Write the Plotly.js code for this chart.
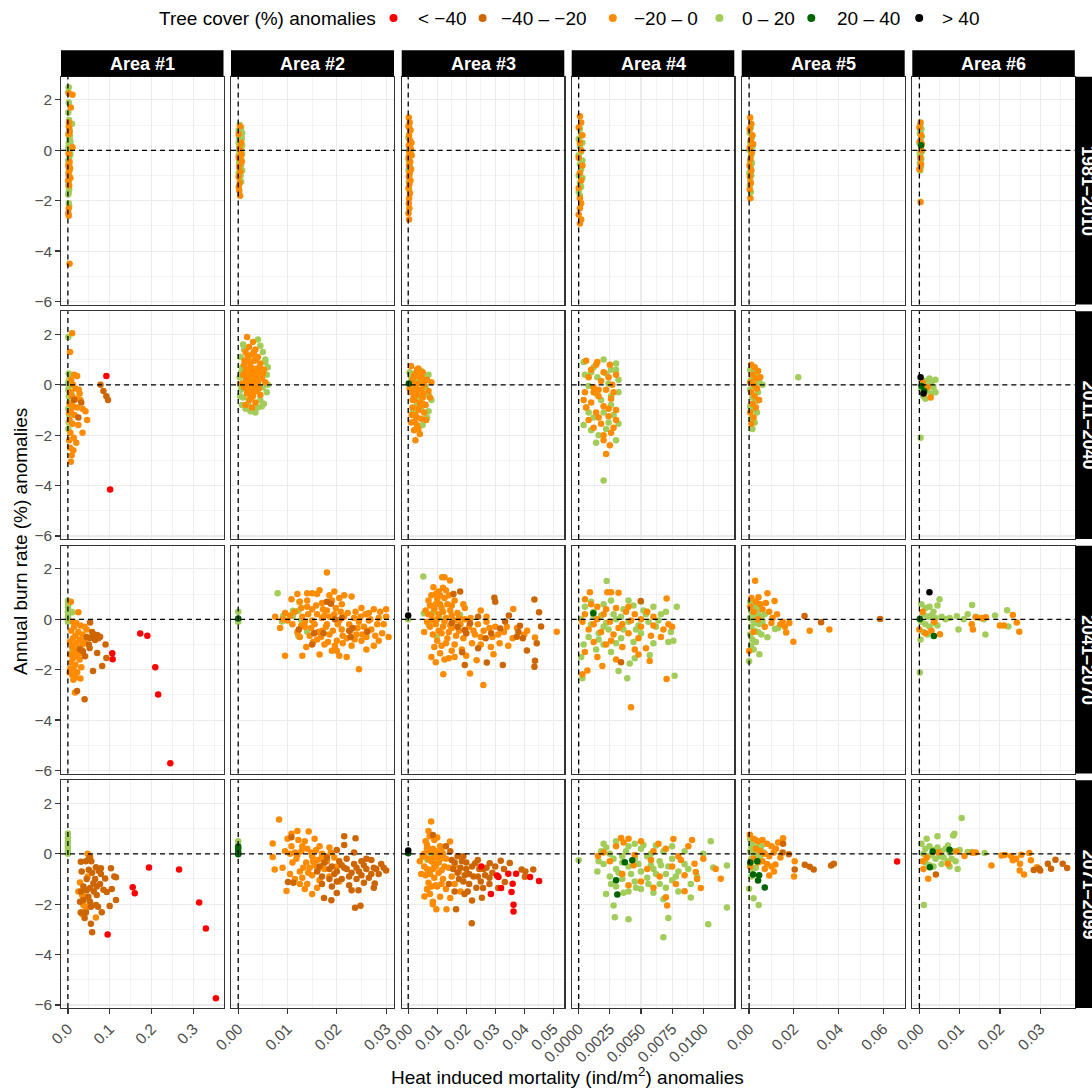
<!DOCTYPE html>
<html><head><meta charset="utf-8">
<script src="https://cdn.plot.ly/plotly-3.0.1.min.js"></script>
<style>html,body{margin:0;padding:0;background:#fff}#chart{width:1092px;height:1091px}</style>
</head><body><div id="chart"></div>
<script>
// ---------- categories / labels ----------
const CLASS_KEYS   = ['red','dko','org','lgr','dgr','blk'];
const CLASS_LABELS = ['&lt; \u221240','\u221240 \u2013 \u221220','\u221220 \u2013 0','0 \u2013 20','20 \u2013 40','&gt; 40'];
const CLASS_COLORS = ['#FF0000','#CD6600','#FF8C00','#A2CD5A','#006400','#000000'];
const DRAW_ORDER   = ['lgr','org','dko','red','dgr','blk'];
const AREAS   = ['Area #1','Area #2','Area #3','Area #4','Area #5','Area #6'];
const PERIODS = ['1981\u20132010','2011\u20132040','2041\u20132070','2071\u20132099'];
const LEGEND_TITLE = 'Tree cover (%) anomalies';
const X_TITLE = 'Heat induced mortality (ind/m<sup>2</sup>) anomalies';
const Y_TITLE = 'Annual burn rate (%) anomalies';

const X_TICKVALS = [[0,0.1,0.2,0.3],[0,0.01,0.02,0.03],[0,0.01,0.02,0.03,0.04,0.05],[0,0.0025,0.005,0.0075,0.01],[0,0.02,0.04,0.06],[0,0.01,0.02,0.03]];
const X_TICKTEXT = [['0.0','0.1','0.2','0.3'],['0.00','0.01','0.02','0.03'],['0.00','0.01','0.02','0.03','0.04','0.05'],['0.0000','0.0025','0.0050','0.0075','0.0100'],['0.00','0.02','0.04','0.06'],['0.00','0.01','0.02','0.03']];
const X_MINOR = [[0.05,0.15,0.25,0.35],[0.005,0.015,0.025],[0.005,0.015,0.025,0.035,0.045],[0.00125,0.00375,0.00625,0.00875,0.01125],[0.01,0.03,0.05],[0.005,0.015,0.025,0.035]];
const Y_TICKVALS = [-6,-4,-2,0,2];
const Y_MINOR = [-5,-3,-1,1];

// ---------- data: [x, y] per tree-cover class, per panel (period row, area column) ----------
const P1_1 = {
 lgr:[[0.002,2.5],[0.001,2.3],[0.002,1.9],[0.001,1.5],[0.003,1.2],[0.010,1.05],[0.002,0.95],[0.004,0.8],[0.001,0.65],[0.003,0.5],[0.005,0.4],[0.002,0.3],[0.004,0.2],[0.001,0.1],[0.003,0.0],[0.002,-0.1],[0.004,-0.25],[0.001,-0.4],[0.003,-0.55],[0.002,-0.7],[0.001,-0.9],[0.004,-1.05],[0.002,-1.25],[0.001,-1.4],[0.003,-1.55],[0.002,-1.65],[0.001,-1.75],[0.002,-2.1],[0.003,-2.2],[0.006,0.3],[0.006,-0.15],[0.005,0.6],[0.004,-0.8]],
 org:[[0.002,2.25],[0.011,2.2],[0.007,1.7],[0.002,1.1],[0.003,0.9],[0.004,0.75],[0.002,0.65],[0.011,0.12],[0.002,-0.15],[0.004,-0.45],[0.001,-0.6],[0.003,-0.8],[0.002,-1.0],[0.006,-1.1],[0.001,-1.2],[0.003,-1.4],[0.002,-2.3],[0.001,-2.5],[0.002,-2.6],[0.004,-4.5],[0.005,-0.7]]
};
const P1_2 = {
 lgr:[[0.0003,1.0],[0.0006,0.9],[0.0001,0.8],[0.0008,0.7],[0.0004,0.6],[0.0002,0.5],[0.0007,0.45],[0.0005,0.35],[0.0001,0.3],[0.0008,0.2],[0.0003,0.15],[0.0006,0.05],[0.0002,0.0],[0.0005,-0.1],[0.0008,-0.15],[0.0001,-0.2],[0.0004,-0.3],[0.0007,-0.4],[0.0002,-0.5],[0.0006,-0.6],[0.0003,-0.7],[0.0008,-0.8],[0.0001,-0.9],[0.0005,-1.0],[0.0003,-1.1],[0.0006,-1.25],[0.0002,-0.35],[0.0007,0.55]],
 org:[[0.0004,0.95],[0.0001,0.65],[0.0006,0.3],[0.0003,0.1],[0.0005,-0.05],[0.0001,-0.3],[0.0007,-0.45],[0.0002,-0.65],[0.0004,-0.85],[0.0001,-1.05],[0.0003,-1.3],[0.0001,-1.45],[0.0002,-1.6],[0.0004,-1.8],[0.0006,-0.2]]
};
const P1_3 = {
 lgr:[[0.0004,0.9],[0.0001,0.5],[0.0007,0.25],[0.0003,0.0],[0.0005,-0.2],[0.0002,-0.4],[0.0006,-0.65],[0.0001,-0.8],[0.0004,-1.0],[0.0002,-1.25],[0.0003,-1.55],[0.0008,-0.05]],
 org:[[0.0002,1.3],[0.0005,1.1],[0.0001,0.95],[0.0008,0.8],[0.0003,0.6],[0.0006,0.4],[0.0002,0.2],[0.0009,0.05],[0.0004,-0.1],[0.0001,-0.3],[0.0007,-0.45],[0.0003,-0.6],[0.0010,-0.75],[0.0005,-0.9],[0.0002,-1.05],[0.0008,-1.2],[0.0004,-1.35],[0.0001,-1.5],[0.0006,-1.7],[0.0003,-1.9],[0.0002,-2.1],[0.0004,-2.3],[0.0001,-2.5],[0.0003,-2.75],[0.0012,-0.2],[0.0011,0.3]]
};
const P1_4 = {
 lgr:[[0.0001,0.85],[0.0002,0.6],[0.0000,0.45],[0.0003,0.3],[0.0001,0.15],[0.0002,-0.05],[0.0000,-0.2],[0.0003,-0.4],[0.0001,-0.55],[0.0002,-0.75],[0.0000,-1.0],[0.0003,-1.1],[0.0001,-1.3],[0.0002,-1.45],[0.0000,-1.65],[0.0001,-1.8]],
 org:[[0.0001,1.35],[0.0002,1.1],[0.0000,0.9],[0.0003,0.6],[0.0001,0.3],[0.0002,0.0],[0.0000,-0.3],[0.0003,-0.6],[0.0001,-0.9],[0.0002,-1.2],[0.0000,-1.5],[0.0001,-1.9],[0.0002,-2.1],[0.0001,-2.3],[0.0000,-2.55],[0.0002,-2.75],[0.0001,-2.9]]
};
const P1_5 = {
 lgr:[[0.0008,0.9],[0.0003,0.7],[0.0012,0.5],[0.0005,0.3],[0.0015,0.15],[0.0002,0.0],[0.0009,-0.2],[0.0004,-0.4],[0.0013,-0.5],[0.0007,-0.7],[0.0001,-0.9],[0.0010,-1.0],[0.0005,-1.2],[0.0003,-1.4],[0.0008,-1.65]],
 org:[[0.0005,1.3],[0.0010,1.05],[0.0002,0.85],[0.0015,0.6],[0.0007,0.4],[0.0003,0.1],[0.0012,-0.1],[0.0006,-0.35],[0.0002,-0.6],[0.0010,-0.8],[0.0004,-1.05],[0.0008,-1.3],[0.0003,-1.55],[0.0006,-1.9],[0.0018,0.25]]
};
const P1_6 = {
 lgr:[[0.0002,1.0],[0.0005,0.85],[0.0001,0.7],[0.0006,0.55],[0.0003,0.4],[0.0000,0.3],[0.0004,0.1],[0.0006,-0.05],[0.0002,-0.2],[0.0005,-0.35],[0.0001,-0.5],[0.0004,-0.65],[0.0002,-0.8],[0.0003,0.65],[0.0001,-0.1]],
 org:[[0.0003,1.1],[0.0000,0.9],[0.0004,0.6],[0.0001,0.35],[0.0005,0.0],[0.0002,-0.3],[0.0004,-0.55],[0.0000,-0.75],[0.0003,-2.05],[0.0006,0.25]],
 dgr:[[0.0004,0.2]]
};

const P2_1 = {
 lgr:[[0.001,1.9],[0.002,0.45],[0.004,0.25],[0.001,0.1],[0.003,-0.05],[0.001,-0.2],[0.002,-0.45],[0.004,-0.7],[0.001,-0.95],[0.003,-1.2],[0.002,-1.5],[0.001,-1.75],[0.006,0.3],[0.008,-0.3]],
 org:[[0.010,2.05],[0.005,1.3],[0.015,0.4],[0.022,0.35],[0.008,0.2],[0.012,0.0],[0.018,-0.15],[0.026,-0.2],[0.005,-0.3],[0.010,-0.45],[0.020,-0.55],[0.030,-0.6],[0.004,-0.75],[0.012,-0.85],[0.022,-0.9],[0.035,-0.95],[0.007,-1.05],[0.016,-1.2],[0.042,-1.05],[0.046,-1.4],[0.004,-1.4],[0.011,-1.55],[0.025,-1.6],[0.035,-1.9],[0.006,-1.9],[0.014,-2.1],[0.020,-2.3],[0.005,-2.5],[0.009,-2.8],[0.007,-3.05],[0.003,-1.1],[0.028,-0.35],[0.003,-2.2],[0.013,-2.6]],
 dko:[[0.078,0.0],[0.085,-0.25],[0.092,-0.45],[0.096,-0.6],[0.032,-0.7],[0.025,-1.3],[0.015,-0.6]],
 red:[[0.092,0.35],[0.101,-4.15]]
};
const P2_2 = {
 lgr:[[0.0010,1.6],[0.0040,1.8],[0.0005,1.1],[0.0050,1.3],[0.0008,0.7],[0.0055,0.9],[0.0003,0.3],[0.0058,0.4],[0.0006,-0.2],[0.0050,-0.1],[0.0010,-0.5],[0.0045,-0.6],[0.0015,-0.95],[0.0040,-0.9],[0.0025,-1.05],[0.0008,-0.8],[0.0035,-1.1],[0.0020,-0.75],[0.0060,0.0],[0.0004,0.0],[0.0048,-0.85],[0.0012,1.4],[0.0045,1.55],[0.0055,1.0],[0.0060,0.7],[0.0058,-0.3],[0.0052,-0.75],[0.0030,-1.0],[0.0006,0.5],[0.0004,-0.45]],
 org:[[0.0018,1.9],[0.0030,1.7],[0.0022,1.5],[0.0035,1.4],[0.0015,1.3],[0.0028,1.2],[0.0040,1.1],[0.0020,1.0],[0.0033,0.95],[0.0045,0.85],[0.0012,0.8],[0.0025,0.75],[0.0038,0.65],[0.0018,0.6],[0.0030,0.5],[0.0042,0.45],[0.0010,0.4],[0.0022,0.35],[0.0034,0.3],[0.0048,0.25],[0.0016,0.2],[0.0028,0.15],[0.0040,0.1],[0.0020,0.0],[0.0032,-0.05],[0.0012,-0.1],[0.0025,-0.2],[0.0038,-0.25],[0.0018,-0.35],[0.0030,-0.45],[0.0022,-0.6],[0.0035,-0.7],[0.0015,-0.8],[0.0028,-0.9],[0.0052,0.6],[0.0055,0.1],[0.0008,0.05],[0.0045,-0.4],[0.0015,0.55],[0.0027,0.4],[0.0033,0.2],[0.0021,0.25],[0.0037,0.0],[0.0026,-0.1],[0.0017,-0.15],[0.0031,-0.3],[0.0042,-0.15],[0.0024,0.9],[0.0036,1.0],[0.0029,0.65],[0.0044,0.7],[0.0019,1.15],[0.0032,1.3],[0.0013,0.95],[0.0040,0.35],[0.0050,0.45],[0.0026,-0.5],[0.0020,-0.25]]
};
const P2_3 = {
 lgr:[[0.0005,0.5],[0.0045,0.55],[0.0070,0.4],[0.0025,0.2],[0.0060,-0.1],[0.0020,-0.3],[0.0080,-0.6],[0.0045,-0.9],[0.0070,-1.05],[0.0015,-1.1],[0.0050,-1.6],[0.0035,-0.55],[0.0065,-1.3],[0.0010,0.3],[0.0040,0.1],[0.0060,0.3],[0.0030,-0.8],[0.0070,-0.4]],
 org:[[0.0010,0.75],[0.0030,0.6],[0.0050,0.5],[0.0020,0.35],[0.0040,0.3],[0.0065,0.2],[0.0015,0.1],[0.0035,0.05],[0.0055,0.0],[0.0025,-0.1],[0.0045,-0.2],[0.0070,-0.25],[0.0010,-0.3],[0.0030,-0.4],[0.0050,-0.5],[0.0020,-0.6],[0.0040,-0.7],[0.0060,-0.8],[0.0015,-0.9],[0.0035,-1.0],[0.0055,-1.1],[0.0025,-1.2],[0.0045,-1.35],[0.0010,-1.5],[0.0030,-1.6],[0.0020,-1.8],[0.0040,-1.95],[0.0025,-2.2],[0.0075,-0.5],[0.0080,0.1],[0.0005,-0.15],[0.0062,-1.4],[0.0025,0.45],[0.0045,0.4],[0.0015,0.2],[0.0030,-0.2],[0.0050,-0.35],[0.0020,-0.45],[0.0040,-0.85],[0.0030,-1.3],[0.0050,-0.75],[0.0015,-0.6],[0.0035,0.65],[0.0055,0.2],[0.0012,-1.2],[0.0022,-1.45],[0.0035,-1.75]],
 dgr:[[0.0002,0.05]]
};
const P2_4 = {
 lgr:[[0.0004,0.9],[0.0020,1.0],[0.0030,0.85],[0.0012,0.7],[0.0026,0.6],[0.0005,0.4],[0.0032,0.2],[0.0015,0.3],[0.0024,0.05],[0.0008,-0.05],[0.0032,-0.3],[0.0018,-0.6],[0.0006,-0.9],[0.0028,-1.2],[0.0012,-1.3],[0.0032,-1.55],[0.0022,-1.75],[0.0010,-1.8],[0.0030,-2.2],[0.0016,-2.0],[0.0020,-3.8],[0.0004,-1.6],[0.0026,-0.8],[0.0010,0.5],[0.0022,0.45],[0.0030,0.6],[0.0014,-0.35],[0.0026,-0.45],[0.0008,-1.1],[0.0020,-1.1],[0.0024,-1.5],[0.0014,-2.3]],
 org:[[0.0006,0.95],[0.0015,0.9],[0.0025,0.8],[0.0010,0.6],[0.0020,0.5],[0.0030,0.4],[0.0008,0.3],[0.0018,0.15],[0.0027,0.0],[0.0012,-0.1],[0.0022,-0.2],[0.0005,-0.3],[0.0016,-0.45],[0.0026,-0.55],[0.0010,-0.7],[0.0020,-0.85],[0.0030,-1.0],[0.0014,-1.1],[0.0024,-1.25],[0.0008,-1.4],[0.0018,-1.55],[0.0028,-1.7],[0.0020,-2.0],[0.0025,-2.4],[0.0022,-2.75],[0.0012,-0.3],[0.0004,-0.6],[0.0014,0.8],[0.0024,0.3],[0.0016,-0.2],[0.0028,-0.3],[0.0006,-0.9],[0.0024,-0.95],[0.0016,-1.3],[0.0030,-1.4],[0.0012,-1.7],[0.0026,-1.9],[0.0020,-2.2]]
};
const P2_5 = {
 lgr:[[0.0005,0.6],[0.0020,0.5],[0.0035,0.35],[0.0010,0.2],[0.0045,0.1],[0.0025,-0.05],[0.0005,-0.2],[0.0040,-0.3],[0.0015,-0.5],[0.0030,-0.65],[0.0005,-0.85],[0.0020,-1.0],[0.0035,-1.1],[0.0010,-1.35],[0.0025,-1.5],[0.0015,-1.75],[0.0220,0.3],[0.0060,0.0]],
 org:[[0.0010,0.8],[0.0025,0.7],[0.0040,0.55],[0.0015,0.4],[0.0030,0.25],[0.0005,0.1],[0.0020,0.0],[0.0035,-0.15],[0.0010,-0.3],[0.0025,-0.45],[0.0045,-0.6],[0.0015,-0.75],[0.0030,-0.9],[0.0005,-1.1],[0.0020,-1.3],[0.0010,-1.55],[0.0050,0.3]]
};
const P2_6 = {
 lgr:[[0.0005,0.2],[0.0015,0.15],[0.0030,0.1],[0.0040,0.2],[0.0010,0.0],[0.0025,-0.05],[0.0035,-0.1],[0.0005,-0.2],[0.0020,-0.25],[0.0030,-0.35],[0.0010,-0.45],[0.0040,-0.3],[0.0015,-0.55],[0.0003,-2.1],[0.0025,0.25]],
 org:[[0.0008,0.1],[0.0020,-0.1],[0.0012,-0.35],[0.0028,-0.5]],
 dgr:[[0.0005,-0.05],[0.0012,-0.25]],
 blk:[[0.0003,0.3],[0.0010,-0.35]]
};

const P3_1 = {
 lgr:[[0.000,0.74],[0.001,0.6],[0.000,0.5],[0.001,0.4],[0.000,0.3],[0.001,0.2],[0.000,0.1],[0.001,0.0],[0.000,-0.1],[0.011,0.28],[0.009,-1.31]],
 org:[[0.007,0.7],[0.025,0.28],[0.012,-0.1],[0.020,-0.15],[0.030,-0.25],[0.015,-0.3],[0.040,-0.3],[0.008,-0.45],[0.025,-0.5],[0.035,-0.6],[0.018,-0.65],[0.012,-0.75],[0.028,-0.8],[0.005,-0.9],[0.020,-0.95],[0.035,-1.0],[0.010,-1.1],[0.025,-1.15],[0.015,-1.25],[0.030,-1.35],[0.006,-1.4],[0.020,-1.45],[0.012,-1.55],[0.028,-1.6],[0.008,-1.7],[0.018,-1.8],[0.006,-1.95],[0.014,-2.0],[0.022,-2.1],[0.010,-2.2],[0.018,-2.3],[0.030,-2.35],[0.013,-2.4],[0.017,-2.9],[0.045,-0.4],[0.040,-0.85],[0.004,-2.1],[0.032,-1.9]],
 dko:[[0.053,-0.13],[0.058,-0.5],[0.070,-0.62],[0.077,-0.69],[0.065,-0.82],[0.073,-0.75],[0.053,-0.74],[0.045,-0.7],[0.050,-1.0],[0.029,-1.2],[0.036,-1.27],[0.052,-1.14],[0.070,-1.34],[0.090,-1.0],[0.092,-1.54],[0.082,-1.85],[0.041,-1.47],[0.060,-2.05],[0.022,-2.85],[0.040,-3.17],[0.062,-0.6]],
 red:[[0.173,-0.56],[0.190,-0.65],[0.106,-1.35],[0.107,-1.59],[0.209,-1.9],[0.216,-2.98],[0.245,-5.71]]
};
const P3_2 = {
 lgr:[[0.0000,0.3],[0.0000,-0.05],[0.0000,-0.1],[0.0080,1.03],[0.0091,0.13],[0.0111,0.34],[0.0121,-0.62],[0.0140,-0.49],[0.0124,0.7],[0.0111,0.13],[0.0128,-0.03],[0.0089,-0.09],[0.0122,0.34],[0.0123,-0.68]],
 org:[[0.0180,1.86],[0.0165,1.15],[0.0120,1.0],[0.0140,1.03],[0.0150,1.03],[0.0160,1.0],[0.0195,1.1],[0.0230,0.9],[0.0108,0.8],[0.0125,0.7],[0.0140,0.75],[0.0170,0.65],[0.0190,0.75],[0.0210,0.6],[0.0250,0.45],[0.0275,0.4],[0.0288,0.3],[0.0300,0.4],[0.0075,0.1],[0.0090,0.0],[0.0100,-0.05],[0.0110,-0.2],[0.0130,0.1],[0.0150,0.4],[0.0160,0.2],[0.0170,0.05],[0.0180,0.35],[0.0195,0.2],[0.0205,-0.05],[0.0215,0.1],[0.0225,-0.2],[0.0235,0.05],[0.0245,-0.1],[0.0255,-0.3],[0.0265,-0.05],[0.0270,-0.4],[0.0282,-0.2],[0.0292,-0.55],[0.0305,-0.7],[0.0085,-0.35],[0.0120,-0.5],[0.0135,-0.3],[0.0145,-0.65],[0.0155,-0.2],[0.0160,-0.8],[0.0170,-0.45],[0.0175,-1.0],[0.0185,-0.6],[0.0190,-1.25],[0.0200,-0.85],[0.0210,-0.4],[0.0220,-0.75],[0.0230,-1.05],[0.0240,-0.6],[0.0250,-0.85],[0.0260,-0.7],[0.0275,-1.05],[0.0220,-1.5],[0.0200,-1.25],[0.0165,-1.4],[0.0130,-1.45],[0.0095,-1.45],[0.0245,-1.98],[0.0180,-0.2],[0.0150,-0.05],[0.0125,-0.7],[0.0285,-0.85],[0.0128,0.45],[0.0142,0.2],[0.0158,0.55],[0.0172,0.4],[0.0186,0.1],[0.0198,0.45],[0.0208,0.3],[0.0222,0.25],[0.0238,0.3],[0.0248,0.1],[0.0258,0.2],[0.0268,0.0],[0.0135,-0.1],[0.0148,-0.35],[0.0162,-0.5],[0.0178,-0.3],[0.0192,-0.45],[0.0202,-0.2],[0.0212,-0.65],[0.0228,-0.45],[0.0242,-0.35],[0.0252,-0.6],[0.0262,-0.45],[0.0278,-0.65],[0.0295,-0.2],[0.0168,-0.7],[0.0182,-0.9],[0.0196,-1.05],[0.0212,-0.95],[0.0236,-0.8],[0.0152,-0.9],[0.0138,-1.1],[0.0115,0.3],[0.0105,0.15],[0.0095,0.25],[0.0128,-0.25],[0.0175,0.15],[0.0205,0.85],[0.0215,0.95],[0.0185,0.95],[0.0140,0.5],[0.0265,0.25],[0.0285,0.05],[0.0300,0.1],[0.0260,-1.2],[0.0205,-1.45]],
 dko:[[0.0180,0.7],[0.0188,0.62],[0.0196,0.0],[0.0154,-0.55],[0.0173,-0.55],[0.0150,-1.0],[0.0123,-0.4],[0.0210,0.05],[0.0225,-0.45],[0.0232,-0.35],[0.0262,-0.49],[0.0228,-0.7]],
 dgr:[[0.0000,0.03]]
};
const P3_3 = {
 lgr:[[0.0000,0.0],[0.0052,1.7],[0.0054,0.24],[0.0071,-0.22],[0.0098,-0.69],[0.0107,0.1],[0.0087,0.3],[0.0179,0.17]],
 org:[[0.0117,1.67],[0.0125,1.67],[0.0144,1.54],[0.0087,1.27],[0.0120,1.25],[0.0105,1.1],[0.0130,1.15],[0.0095,1.0],[0.0140,0.95],[0.0070,0.75],[0.0100,0.8],[0.0125,0.85],[0.0075,0.55],[0.0110,0.6],[0.0150,0.55],[0.0190,0.6],[0.0195,0.45],[0.0060,0.35],[0.0090,0.4],[0.0120,0.3],[0.0145,0.35],[0.0170,0.25],[0.0080,0.15],[0.0100,0.0],[0.0130,0.05],[0.0160,-0.05],[0.0065,-0.1],[0.0095,-0.2],[0.0120,-0.3],[0.0145,-0.25],[0.0180,-0.2],[0.0210,-0.3],[0.0240,-0.2],[0.0270,-0.1],[0.0055,-0.5],[0.0085,-0.6],[0.0115,-0.55],[0.0140,-0.5],[0.0165,-0.65],[0.0200,-0.55],[0.0230,-0.6],[0.0260,-0.45],[0.0290,-0.7],[0.0330,-0.5],[0.0360,-0.75],[0.0375,-0.35],[0.0100,-0.85],[0.0130,-0.95],[0.0160,-1.0],[0.0220,-0.95],[0.0250,-1.0],[0.0285,-1.1],[0.0315,-0.95],[0.0345,-1.05],[0.0080,-1.5],[0.0110,-1.35],[0.0140,-1.55],[0.0125,-1.6],[0.0160,-1.5],[0.0200,-1.45],[0.0236,-1.62],[0.0294,-1.39],[0.0121,-2.18],[0.0213,-2.15],[0.0259,-2.61],[0.0512,-0.49],[0.0437,-0.72],[0.0400,-0.6],[0.0362,0.41],[0.0250,0.35],[0.0270,0.1],[0.0410,-0.45],[0.0300,-0.3],[0.0070,0.2],[0.0085,-0.05],[0.0105,0.2],[0.0115,0.45],[0.0135,0.6],[0.0150,0.15],[0.0075,-0.3],[0.0105,-0.45],[0.0125,-0.1],[0.0135,-0.75],[0.0150,-0.35],[0.0190,-0.75],[0.0175,-0.45],[0.0195,0.0],[0.0215,0.05],[0.0225,-0.45],[0.0250,-0.7],[0.0280,-0.35],[0.0310,-0.6],[0.0340,-0.3],[0.0185,-1.2],[0.0150,-1.25],[0.0115,-1.05],[0.0090,-1.1],[0.0095,-1.7],[0.0110,0.95],[0.0095,0.6],[0.0160,0.75],[0.0080,0.95],[0.0175,0.05]],
 dko:[[0.0435,0.79],[0.0451,0.28],[0.0297,0.86],[0.0300,0.7],[0.0179,1.1],[0.0156,1.0],[0.0347,0.15],[0.0241,0.1],[0.0195,-0.42],[0.0374,-0.69],[0.0385,-0.26],[0.0458,-0.29],[0.0443,-0.95],[0.0409,-1.24],[0.0437,-1.64],[0.0435,-1.88],[0.0326,-1.81],[0.0271,-1.71],[0.0195,-1.81],[0.0186,-1.31],[0.0241,-1.15],[0.0267,-0.75],[0.0286,-0.55],[0.0317,-0.36],[0.0334,-0.09],[0.0213,-0.16],[0.0150,-0.15],[0.0200,-0.55],[0.0170,-0.3],[0.0380,-0.5],[0.0395,-0.75]],
 blk:[[0.0000,0.15]]
};
const P3_4 = {
 lgr:[[0.00225,1.52],[0.00787,0.5],[0.0077,-2.24],[0.0039,-2.34],[0.0032,-2.05],[0.0003,-2.34],[0.0076,-0.85],[0.0072,-0.9],[0.0074,-0.5],[0.0057,-1.42],[0.0041,-1.75],[0.0045,-1.55],[0.0005,0.5],[0.0012,0.3],[0.0020,0.6],[0.0028,0.2],[0.0036,0.4],[0.0044,0.55],[0.0052,0.35],[0.0060,0.5],[0.0066,0.2],[0.0070,0.3],[0.0002,0.0],[0.0010,-0.2],[0.0020,-0.3],[0.0030,0.0],[0.0040,-0.1],[0.0046,-0.4],[0.0056,-0.1],[0.0064,-0.05],[0.0008,-0.7],[0.0016,-0.8],[0.0024,-0.4],[0.0034,-0.75],[0.0044,-0.9],[0.0060,-0.95],[0.0004,-1.0],[0.0014,-1.2],[0.0026,-1.3],[0.0036,-0.4],[0.0002,-1.5],[0.0018,0.15],[0.0050,0.7],[0.0026,0.75],[0.0012,0.1],[0.0022,-0.15],[0.0034,0.1],[0.0048,-0.25],[0.0054,0.2],[0.0062,-0.3],[0.0016,-0.55],[0.0030,-0.95],[0.0050,-0.55],[0.0020,-1.0],[0.0010,0.7],[0.0040,0.75]],
 org:[[0.0009,1.07],[0.0023,1.07],[0.0026,1.07],[0.0032,1.05],[0.00706,0.83],[0.0042,-3.49],[0.00706,-2.37],[0.0003,-2.18],[0.0007,-2.03],[0.0019,-1.85],[0.0057,-1.65],[0.0005,0.8],[0.0010,0.6],[0.0015,0.5],[0.0030,0.45],[0.0045,0.2],[0.0055,0.3],[0.0005,0.2],[0.0015,0.0],[0.0025,-0.1],[0.0035,-0.2],[0.0050,-0.3],[0.0060,-0.25],[0.0068,-0.4],[0.0072,-0.2],[0.0008,-0.4],[0.0018,-0.5],[0.0028,-0.6],[0.0040,-0.55],[0.0048,-0.75],[0.0058,-0.65],[0.0066,-0.7],[0.0012,-0.9],[0.0022,-1.0],[0.0035,-1.1],[0.0045,-1.2],[0.0054,-1.15],[0.0005,-1.3],[0.0015,-1.5],[0.0030,-1.6],[0.0048,-1.4],[0.0075,-0.3],[0.0003,-0.1],[0.0050,0.0],[0.0038,0.3],[0.0020,0.2],[0.0032,-0.35],[0.0042,-0.05],[0.0012,-0.2],[0.0026,-0.85],[0.0060,0.1],[0.0040,0.5],[0.0022,0.4]],
 dko:[[0.00498,0.73],[0.0034,-1.7]],
 dgr:[[0.00117,0.24]]
};
const P3_5 = {
 lgr:[[0.0000,-1.66],[0.0046,-1.39],[0.0116,-0.38],[0.0130,-0.35],[0.0082,-0.71],[0.0005,0.7],[0.0020,0.55],[0.0035,0.45],[0.0010,0.3],[0.0025,0.2],[0.0040,0.25],[0.0055,0.1],[0.0005,0.05],[0.0018,-0.05],[0.0030,-0.15],[0.0045,-0.2],[0.0060,-0.1],[0.0010,-0.3],[0.0025,-0.45],[0.0040,-0.5],[0.0055,-0.6],[0.0005,-0.6],[0.0015,-0.8],[0.0030,-0.9],[0.0008,-1.05],[0.0020,-1.2],[0.0070,0.2],[0.0015,0.1]],
 org:[[0.0027,1.53],[0.0042,0.88],[0.0082,1.03],[0.0114,0.73],[0.0010,0.85],[0.0050,0.6],[0.0075,0.65],[0.0166,-0.52],[0.0198,-0.89],[0.0271,-0.45],[0.0359,-0.4],[0.0180,-0.15],[0.0150,-0.1],[0.0125,0.2],[0.0105,0.05],[0.0090,0.3],[0.0140,-0.2],[0.0060,0.4],[0.0020,0.3],[0.0040,0.0],[0.0000,-1.26],[0.0100,-0.15],[0.0160,-0.3],[0.0070,-0.3],[0.0020,-0.5],[0.0005,0.5],[0.0030,0.7]],
 dko:[[0.0586,0.01],[0.0248,0.13],[0.0322,-0.12]]
};
const P3_6 = {
 lgr:[[0.0001,-2.11],[0.0131,0.57],[0.0218,0.36],[0.0188,0.15],[0.0164,-0.6],[0.0221,-0.29],[0.0097,-0.4],[0.0093,0.12],[0.0120,0.2],[0.0150,0.05],[0.0160,0.0],[0.0050,0.8],[0.0005,0.6],[0.0015,0.45],[0.0025,0.5],[0.0035,0.3],[0.0045,0.55],[0.0010,0.2],[0.0020,0.1],[0.0030,0.15],[0.0040,0.05],[0.0055,0.1],[0.0065,0.0],[0.0075,0.05],[0.0005,-0.1],[0.0015,-0.2],[0.0025,-0.3],[0.0035,-0.15],[0.0045,-0.25],[0.0010,-0.5],[0.0020,-0.6],[0.0003,-0.8],[0.0140,0.1],[0.0110,0.0]],
 org:[[0.0232,0.17],[0.0248,-0.49],[0.0242,-0.13],[0.0200,-0.25],[0.0133,-0.4],[0.0130,-0.2],[0.0140,0.08],[0.0165,0.08],[0.0051,-0.59],[0.0037,-0.1],[0.0015,-0.55],[0.0000,-0.4],[0.0210,-0.25],[0.0155,0.05],[0.0030,-0.45],[0.0008,0.3]],
 dgr:[[0.0001,0.01],[0.0036,-0.66]],
 blk:[[0.0025,1.07]]
};

const P4_1 = {
 lgr:[[0.0,0.81],[0.0,0.65],[0.0,0.5],[0.0,0.4],[0.0,0.3],[0.0,0.2],[0.0,0.1],[0.0,0.0]],
 org:[[0.047,0.0],[0.029,-1.14],[0.034,-1.63],[0.037,-2.03],[0.046,-2.1],[0.043,-2.2],[0.067,-2.53],[0.031,-2.33],[0.035,-2.4],[0.041,-1.7],[0.047,-0.9],[0.037,-1.85],[0.025,-1.5]],
 dko:[[0.053,-0.13],[0.056,-0.3],[0.031,-0.32],[0.043,-0.3],[0.050,-0.63],[0.067,-0.53],[0.079,-0.57],[0.103,-0.57],[0.111,-0.9],[0.115,-0.93],[0.089,-0.98],[0.079,-0.8],[0.074,-0.68],[0.033,-0.7],[0.065,-1.0],[0.045,-1.0],[0.037,-1.3],[0.053,-1.36],[0.069,-1.3],[0.085,-1.43],[0.093,-1.52],[0.105,-1.4],[0.115,-1.83],[0.100,-2.07],[0.081,-2.32],[0.067,-2.03],[0.053,-1.9],[0.049,-1.7],[0.037,-1.83],[0.031,-2.33],[0.043,-2.33],[0.055,-2.78],[0.058,-3.11],[0.040,-2.55],[0.029,-1.9],[0.069,-1.63],[0.061,-1.17],[0.077,-1.2],[0.031,-1.5],[0.058,-0.75],[0.045,-1.45],[0.062,-1.5],[0.055,-2.1],[0.072,-2.1],[0.050,-0.2]],
 red:[[0.155,-1.33],[0.160,-1.57],[0.194,-0.54],[0.266,-0.62],[0.314,-1.93],[0.330,-2.96],[0.354,-5.73],[0.095,-3.2]]
};
const P4_2 = {
 lgr:[[0.0,0.5]],
 org:[[0.0083,1.36],[0.0143,0.89],[0.0070,0.41],[0.0074,-0.62],[0.0098,-1.48],[0.0070,-0.13],[0.0100,0.6],[0.0095,0.1],[0.0105,0.0],[0.0115,0.05],[0.0120,-0.05],[0.0110,-0.35],[0.0125,-0.7],[0.0130,-0.95],[0.0135,0.5],[0.0140,0.2],[0.0150,-0.1],[0.0155,-0.45],[0.0160,-0.25],[0.0165,0.3],[0.0170,0.0],[0.0175,-0.6],[0.0150,-0.85],[0.0140,-1.2],[0.0165,-1.05],[0.0180,-0.3],[0.0185,-0.9],[0.0195,-0.15],[0.0160,-1.35],[0.0200,-0.5],[0.0130,0.3],[0.0090,-0.55],[0.0205,-1.1],[0.0105,-0.8],[0.0122,0.55],[0.0185,0.25],[0.0145,-0.55],[0.0108,0.3],[0.0118,-0.2],[0.0128,0.1],[0.0138,-0.35],[0.0148,0.05],[0.0158,0.15],[0.0168,-0.2],[0.0178,-0.1],[0.0188,0.05],[0.0132,-0.55],[0.0142,-0.75],[0.0152,-0.3],[0.0162,-0.6],[0.0172,-0.45],[0.0115,-1.0],[0.0125,-1.2],[0.0135,-1.4],[0.0108,0.8],[0.0120,0.9],[0.0155,0.6],[0.0150,-1.6]],
 dko:[[0.0215,0.7],[0.0238,0.62],[0.0108,0.66],[0.0300,-0.66],[0.0277,-1.18],[0.0248,-2.06],[0.0237,-2.14],[0.0244,-1.45],[0.0200,-1.56],[0.0189,-1.84],[0.0174,-1.75],[0.0101,-1.12],[0.0112,-1.15],[0.0165,-0.5],[0.0175,-0.35],[0.0185,-0.6],[0.0195,-0.8],[0.0205,-0.3],[0.0215,-0.55],[0.0225,-0.9],[0.0235,-0.4],[0.0245,-0.7],[0.0255,-0.45],[0.0265,-0.95],[0.0275,-0.55],[0.0285,-0.8],[0.0290,-0.4],[0.0225,-1.25],[0.0255,-1.15],[0.0210,-1.0],[0.0190,-1.3],[0.0235,0.05],[0.0170,-0.9],[0.0200,0.15],[0.0160,-0.7],[0.0270,-0.25],[0.0180,-0.15],[0.0190,-0.5],[0.0200,-0.7],[0.0210,-0.45],[0.0220,-0.6],[0.0230,-0.75],[0.0240,-0.55],[0.0250,-0.3],[0.0260,-0.6],[0.0270,-0.8],[0.0280,-0.6],[0.0295,-0.55],[0.0220,-0.2],[0.0240,-1.0],[0.0250,-0.85],[0.0200,-1.1],[0.0185,-1.0],[0.0170,-1.2],[0.0230,-1.45],[0.0260,-0.2],[0.0215,0.35],[0.0275,-1.35]],
 dgr:[[0.0,0.29],[0.0,0.2],[0.0,0.07],[0.0,-0.02]]
};
const P4_3 = {
 lgr:[[0.0057,-0.13],[0.0066,-0.24],[0.0079,0.0],[0.0065,-1.42]],
 org:[[0.0079,1.28],[0.0074,0.7],[0.0097,-2.2],[0.0085,-2.0],[0.0132,-2.2],[0.0056,-1.69],[0.0144,0.49],[0.0060,0.5],[0.0090,0.55],[0.0110,0.3],[0.0065,0.2],[0.0095,0.1],[0.0120,0.0],[0.0050,-0.1],[0.0080,-0.3],[0.0105,-0.35],[0.0130,-0.2],[0.0055,-0.5],[0.0085,-0.6],[0.0115,-0.65],[0.0140,-0.55],[0.0060,-0.85],[0.0090,-0.95],[0.0120,-1.0],[0.0150,-0.9],[0.0070,-1.15],[0.0100,-1.3],[0.0130,-1.4],[0.0160,-1.2],[0.0075,-1.6],[0.0110,-1.7],[0.0145,-1.75],[0.0180,-1.5],[0.0085,-1.9],[0.0160,-0.45],[0.0175,-0.7],[0.0040,-0.3],[0.0045,-0.8],[0.0100,0.65],[0.0065,0.35],[0.0075,0.1],[0.0085,0.2],[0.0070,-0.2],[0.0090,-0.15],[0.0100,-0.05],[0.0110,-0.2],[0.0065,-0.6],[0.0075,-0.8],[0.0095,-0.5],[0.0105,-0.75],[0.0125,-0.5],[0.0080,-1.3],[0.0095,-1.25],[0.0115,-1.2],[0.0065,-1.4],[0.0090,-0.4],[0.0055,0.0],[0.0115,0.1],[0.0070,0.9]],
 dko:[[0.0085,0.75],[0.0219,-2.76],[0.0254,-1.74],[0.0165,-2.2],[0.0194,-1.6],[0.0231,-0.37],[0.0281,-0.37],[0.0319,-0.28],[0.0350,-0.36],[0.0391,-0.62],[0.0404,-0.7],[0.0431,-0.62],[0.0402,-0.91],[0.0333,-1.12],[0.0310,-1.36],[0.0258,-1.36],[0.0235,-1.35],[0.0210,-1.2],[0.0225,-0.9],[0.0265,-0.85],[0.0290,-0.75],[0.0200,-0.6],[0.0185,-0.3],[0.0170,-0.1],[0.0150,-0.25],[0.0155,-0.6],[0.0175,-1.0],[0.0195,-0.85],[0.0245,-0.6],[0.0130,0.3],[0.0270,-0.55],[0.0160,-1.5],[0.0220,-1.85],[0.0140,-1.2],[0.0160,-0.35],[0.0180,-0.55],[0.0190,-0.1],[0.0200,-0.35],[0.0210,-0.8],[0.0220,-0.5],[0.0240,-0.9],[0.0250,-1.1],[0.0260,-0.6],[0.0280,-0.95],[0.0300,-0.5],[0.0330,-0.6],[0.0240,-0.25],[0.0170,-0.75],[0.0190,-1.1],[0.0205,-1.5],[0.0280,-1.2],[0.0145,0.1]],
 red:[[0.0252,-0.5],[0.0306,-0.86],[0.0311,-0.92],[0.0320,-1.36],[0.0345,-0.79],[0.0372,-0.79],[0.0360,-1.19],[0.0356,-1.52],[0.0363,-2.02],[0.0363,-2.29],[0.0285,-1.6],[0.0420,-0.92],[0.0451,-1.08]],
 dgr:[[0.0,0.02]],
 blk:[[0.0,0.13]]
};
const P4_4 = {
 lgr:[[0.0,-0.26],[0.0106,0.5],[0.0119,-0.46],[0.0119,-2.13],[0.0104,-2.8],[0.0068,-3.31],[0.0040,-2.6],[0.0029,-2.52],[0.0028,-2.05],[0.0072,-2.55],[0.0090,-1.73],[0.0108,-0.54],[0.0100,0.0],[0.0062,0.33],[0.0020,0.4],[0.0030,0.5],[0.0040,0.3],[0.0050,0.2],[0.0018,0.1],[0.0025,0.0],[0.0035,-0.1],[0.0045,-0.2],[0.0055,-0.1],[0.0065,-0.3],[0.0075,-0.2],[0.0085,-0.4],[0.0020,-0.4],[0.0030,-0.6],[0.0040,-0.5],[0.0050,-0.7],[0.0060,-0.6],[0.0070,-0.8],[0.0080,-0.7],[0.0025,-0.9],[0.0035,-1.0],[0.0045,-1.1],[0.0055,-0.95],[0.0065,-1.2],[0.0075,-1.05],[0.0030,-1.3],[0.0040,-1.5],[0.0050,-1.4],[0.0060,-1.55],[0.0070,-1.35],[0.0080,-1.5],[0.0015,-0.7],[0.0095,-0.9],[0.0085,0.1],[0.0075,0.3],[0.0045,0.4],[0.0035,-0.35],[0.0058,-0.45],[0.0068,-1.8],[0.0022,-1.6],[0.0022,0.25],[0.0028,-0.2],[0.0038,0.1],[0.0048,-0.4],[0.0052,0.35],[0.0058,0.0],[0.0062,-0.8],[0.0068,0.1],[0.0072,-0.5],[0.0078,-0.9],[0.0088,-0.6],[0.0032,-0.75],[0.0042,-0.8],[0.0046,-1.35],[0.0056,-1.2],[0.0036,-1.55],[0.0026,-1.2],[0.0066,-0.45],[0.0016,-0.3],[0.0090,-1.2]],
 org:[[0.00155,-0.09],[0.0034,0.63],[0.0040,0.6],[0.0076,0.59],[0.0091,0.55],[0.0114,-0.99],[0.0098,-1.36],[0.0085,-1.49],[0.0070,-1.72],[0.0071,-2.05],[0.0093,-0.39],[0.0094,-0.72],[0.0095,-1.0],[0.0030,0.3],[0.0050,0.5],[0.0060,0.1],[0.0045,-0.05],[0.0025,-0.3],[0.0055,-0.6],[0.0080,-0.1],[0.0065,-0.9],[0.0040,-1.25],[0.0075,-0.5],[0.0085,-0.85],[0.0100,-0.2],[0.0110,-0.6],[0.0050,-1.1],[0.0035,-0.8],[0.0078,-1.2],[0.0070,0.2],[0.0020,0.05],[0.0036,0.45],[0.0044,-0.45],[0.0058,-0.25],[0.0064,0.4],[0.0082,-0.25],[0.0088,0.3],[0.0060,-1.35]],
 dgr:[[0.0037,-0.34],[0.0043,-0.26],[0.0030,-1.05],[0.0031,-1.61]]
};
const P4_5 = {
 lgr:[[0.0000,-1.39],[0.0020,-1.76],[0.0043,-2.03],[0.0005,0.6],[0.0015,0.45],[0.0030,0.55],[0.0045,0.4],[0.0010,0.3],[0.0025,0.25],[0.0040,0.15],[0.0055,0.3],[0.0005,0.1],[0.0020,0.0],[0.0035,-0.05],[0.0050,-0.1],[0.0065,0.05],[0.0010,-0.2],[0.0025,-0.3],[0.0045,-0.25],[0.0005,-0.45],[0.0015,-0.6],[0.0030,-0.55],[0.0010,-0.9]],
 org:[[0.0152,0.62],[0.0204,-0.3],[0.0201,-0.9],[0.0111,-0.7],[0.0090,-0.86],[0.0003,0.76],[0.0118,-0.42],[0.0140,-0.15],[0.0020,0.6],[0.0040,0.5],[0.0060,0.55],[0.0080,0.4],[0.0100,0.3],[0.0120,0.2],[0.0030,0.2],[0.0050,0.1],[0.0070,0.0],[0.0090,-0.1],[0.0110,0.05],[0.0020,-0.2],[0.0040,-0.35],[0.0060,-0.3],[0.0080,-0.4],[0.0100,-0.5],[0.0130,0.45],[0.0005,-0.5],[0.0070,-0.6]],
 dko:[[0.0152,0.4],[0.0249,-0.43],[0.0271,-0.51],[0.0289,-0.62],[0.0204,-0.62],[0.0367,-0.46],[0.0379,-0.39],[0.0178,-0.02],[0.0150,0.05]],
 red:[[0.0662,-0.31]],
 dgr:[[0.0018,-0.82],[0.0070,-1.34],[0.0040,-1.06],[0.0005,-0.35],[0.0037,-0.3],[0.0045,-0.85]]
};
const P4_6 = {
 lgr:[[0.0105,1.42],[0.0011,-2.03],[0.0084,0.73],[0.0087,0.8],[0.0045,0.7],[0.0018,0.6],[0.0071,0.33],[0.0162,0.03],[0.0120,0.07],[0.0130,0.07],[0.0005,0.4],[0.0015,0.2],[0.0025,0.3],[0.0035,0.15],[0.0045,0.25],[0.0055,0.1],[0.0065,0.2],[0.0075,0.05],[0.0085,0.1],[0.0010,0.0],[0.0020,-0.1],[0.0030,-0.05],[0.0040,-0.2],[0.0050,-0.1],[0.0060,-0.15],[0.0070,-0.3],[0.0080,-0.2],[0.0090,-0.3],[0.0015,-0.35],[0.0025,-0.45],[0.0035,-0.5],[0.0055,-0.4],[0.0075,-0.5],[0.0095,-0.6],[0.0100,0.15]],
 org:[[0.0022,-0.99],[0.0179,-0.46],[0.0204,-0.07],[0.0212,-0.05],[0.0228,-0.09],[0.0253,-0.04],[0.0273,0.03],[0.0277,-0.26],[0.0250,-0.39],[0.0232,-0.26],[0.0249,-0.66],[0.0260,-0.82],[0.0292,-0.53],[0.0132,0.04],[0.0112,-0.09],[0.0092,0.09],[0.0048,0.05],[0.0008,-0.3],[0.0018,-0.15],[0.0071,-0.39],[0.0010,-0.6],[0.0140,0.05],[0.0240,-0.2]],
 dko:[[0.0041,-0.82],[0.0319,-0.39],[0.0338,-0.24],[0.0356,-0.39],[0.0367,-0.56],[0.0327,-0.59],[0.0297,-0.59],[0.0284,-0.64],[0.0300,-0.66]],
 dgr:[[0.0033,0.09],[0.0075,0.16],[0.0026,-0.53]]
};

const PANELS = [
  [P1_1,P1_2,P1_3,P1_4,P1_5,P1_6],
  [P2_1,P2_2,P2_3,P2_4,P2_5,P2_6],
  [P3_1,P3_2,P3_3,P3_4,P3_5,P3_6],
  [P4_1,P4_2,P4_3,P4_4,P4_5,P4_6]
];

// ---------- geometry (pixels) ----------
const W = 1092, H = 1091;
const COL_PX = [[61,223.5],[231,394],[401.7,564.3],[571.7,734.3],[741.7,904.7],[912.3,1074.8]];
const X_RANGES = [[-0.0165,0.3722],[-0.00146,0.0316],[-0.00224,0.0538],[-0.00056,0.01249],[-0.00331,0.0696],[-0.00176,0.0386]];
const ZERO_PX = [150.3,384.8,619.3,853.8];
const Y_UNIT = 25.2;
const Y_RANGE = [-6.12, 2.92];
const FONT = 'Liberation Sans, Arial, Helvetica, sans-serif';
const px = v => v / W;
const py = v => 1 - v / H;

const traces = [];
const shapes = [];
const annotations = [];
const layout = {
  width: W, height: H,
  margin: {l:0, r:0, t:0, b:0, pad:0},
  paper_bgcolor: '#ffffff', plot_bgcolor: '#ffffff',
  showlegend: false,
  font: {family: FONT, color: '#000000'},
  shapes: shapes, annotations: annotations
};

for (let r = 0; r < 4; r++) {
  const top = ZERO_PX[r] - Y_RANGE[1] * Y_UNIT;
  const bot = ZERO_PX[r] - Y_RANGE[0] * Y_UNIT;
  for (let c = 0; c < 6; c++) {
    const k = r * 6 + c + 1;
    const xn = 'x' + (k > 1 ? k : ''), yn = 'y' + (k > 1 ? k : '');
    const xk = 'xaxis' + (k > 1 ? k : ''), yk = 'yaxis' + (k > 1 ? k : '');
    const bottomRow = (r === 3), firstCol = (c === 0);
    layout[xk] = {
      domain: [px(COL_PX[c][0]), px(COL_PX[c][1])], range: X_RANGES[c], anchor: yn,
      tickmode: 'array', tickvals: X_TICKVALS[c], ticktext: X_TICKTEXT[c],
      showticklabels: bottomRow, ticks: bottomRow ? 'outside' : '', ticklen: 4.5, tickwidth: 1.2, tickcolor: '#333333',
      tickangle: -45, tickfont: {family: FONT, size: 15.5, color: '#4D4D4D'},
      showgrid: true, gridcolor: '#EBEBEB', gridwidth: 1.1, zeroline: false,
      showline: true, mirror: true, linecolor: '#333333', linewidth: 1.2,
      minor: {tickmode: 'array', tickvals: X_MINOR[c], showgrid: true, gridcolor: '#EBEBEB', gridwidth: 0.6, ticks: ''},
      fixedrange: true, automargin: false
    };
    layout[yk] = {
      domain: [py(bot), py(top)], range: Y_RANGE, anchor: xn,
      tickmode: 'array', tickvals: Y_TICKVALS,
      showticklabels: firstCol, ticks: firstCol ? 'outside' : '', ticklen: 4.5, tickwidth: 1.2, tickcolor: '#333333',
      tickfont: {family: FONT, size: 15.5, color: '#4D4D4D'},
      showgrid: true, gridcolor: '#EBEBEB', gridwidth: 1.1, zeroline: false,
      showline: true, mirror: true, linecolor: '#333333', linewidth: 1.2,
      minor: {tickmode: 'array', tickvals: Y_MINOR, showgrid: true, gridcolor: '#EBEBEB', gridwidth: 0.6, ticks: ''},
      fixedrange: true, automargin: false
    };
    const panel = PANELS[r][c];
    DRAW_ORDER.forEach(key => {
      const pts = panel[key];
      if (!pts) return;
      const ci = CLASS_KEYS.indexOf(key);
      traces.push({
        type: 'scatter', mode: 'markers', xaxis: xn, yaxis: yn,
        x: pts.map(p => p[0]), y: pts.map(p => p[1]),
        marker: {color: CLASS_COLORS[ci], size: 6.5, line: {width: 0}},
        name: CLASS_LABELS[ci], showlegend: false, hoverinfo: 'skip'
      });
    });
    shapes.push({type:'line', xref: xn, yref: yn + ' domain', x0: 0, x1: 0, y0: 0, y1: 1,
                 line: {color:'#000000', width: 1.3, dash: '5px,4px'}, layer: 'above'});
    shapes.push({type:'line', xref: xn + ' domain', yref: yn, x0: 0, x1: 1, y0: 0, y1: 0,
                 line: {color:'#000000', width: 1.3, dash: '5px,4px'}, layer: 'above'});
  }
  // right strip (period) - partly beyond the canvas edge, as in the reference
  shapes.push({type:'rect', xref:'paper', yref:'paper', x0: px(1075.3), x1: px(1102), y0: py(bot), y1: py(top),
               fillcolor:'#000000', line:{width:0}, layer:'above'});
  annotations.push({xref:'paper', yref:'paper', x: px(1088.6), y: py((top + bot) / 2), text: '<b>' + PERIODS[r] + '</b>',
                    textangle: 90, showarrow: false, xanchor:'center', yanchor:'middle',
                    font: {family: FONT, size: 18, color: '#ffffff'}});
}
// top strips (areas)
for (let c = 0; c < 6; c++) {
  shapes.push({type:'rect', xref:'paper', yref:'paper', x0: px(COL_PX[c][0]), x1: px(COL_PX[c][1]), y0: py(76.7), y1: py(50.3),
               fillcolor:'#000000', line:{width:0}, layer:'above'});
  annotations.push({xref:'paper', yref:'paper', x: px((COL_PX[c][0] + COL_PX[c][1]) / 2), y: py(63.5),
                    text: '<b>' + AREAS[c] + '</b>', showarrow: false, xanchor:'center', yanchor:'middle',
                    font: {family: FONT, size: 18, color: '#ffffff'}});
}
// axis titles
annotations.push({xref:'paper', yref:'paper', x: px(567.5), y: py(1075.5), text: X_TITLE, showarrow:false,
                  xanchor:'center', yanchor:'middle', font:{family: FONT, size: 19, color:'#000000'}});
annotations.push({xref:'paper', yref:'paper', x: px(20), y: py(542), text: Y_TITLE, showarrow:false, textangle: -90,
                  xanchor:'center', yanchor:'middle', font:{family: FONT, size: 19, color:'#000000'}});
// legend (manual, top)
const LEG_Y = 18;
const LEG_KEY_X = [393.5, 482.6, 612.8, 719.4, 811.3, 919.2];
const LEG_TXT_X = [415.7, 499, 631.6, 739.6, 835, 940];
annotations.push({xref:'paper', yref:'paper', x: px(156.7), y: py(LEG_Y), text: LEGEND_TITLE, showarrow:false,
                  xanchor:'left', yanchor:'middle', font:{family: FONT, size: 19, color:'#000000'}});
for (let i = 0; i < 6; i++) {
  const cx = LEG_KEY_X[i], rr = 4;
  shapes.push({type:'circle', xref:'paper', yref:'paper', x0: px(cx - rr), x1: px(cx + rr), y0: py(LEG_Y + rr), y1: py(LEG_Y - rr),
               fillcolor: CLASS_COLORS[i], line:{width:0}});
  annotations.push({xref:'paper', yref:'paper', x: px(LEG_TXT_X[i]), y: py(LEG_Y), text: CLASS_LABELS[i], showarrow:false,
                    xanchor:'left', yanchor:'middle', font:{family: FONT, size: 19, color:'#000000'}});
}

Plotly.newPlot('chart', traces, layout, {staticPlot: true, displayModeBar: false});
</script>
</body></html>
